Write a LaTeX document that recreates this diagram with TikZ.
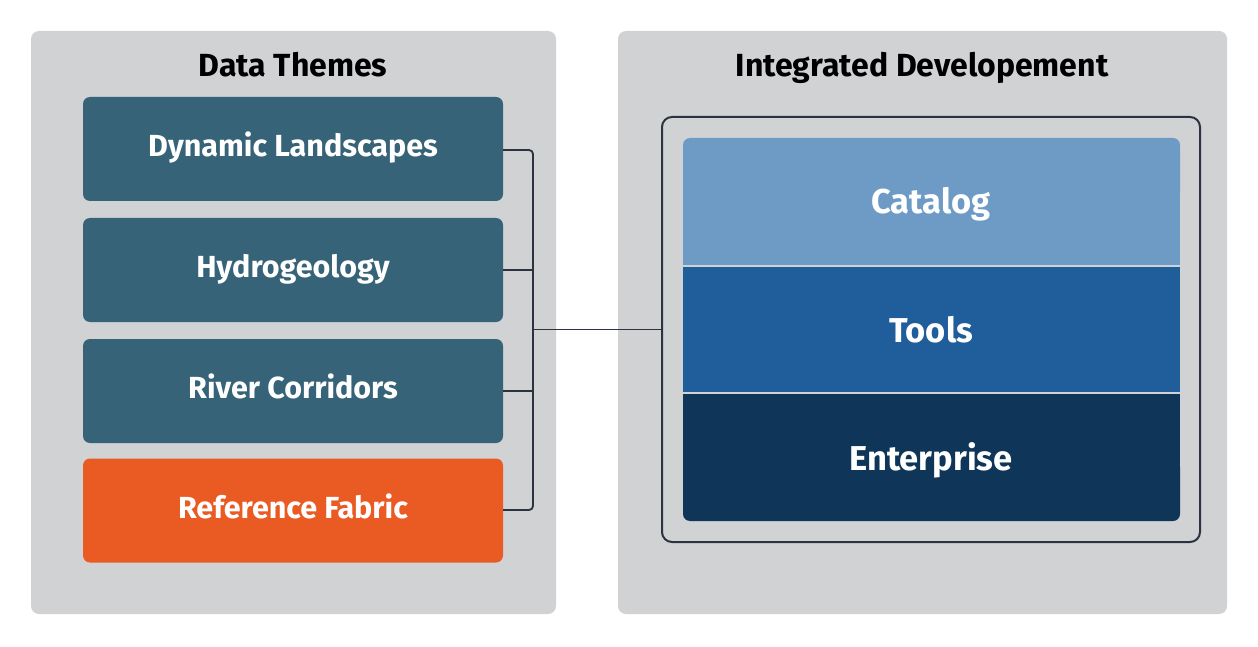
\documentclass[tikz,border=0pt]{standalone}
\usepackage{fontspec}
\setmainfont{Fira Sans}
\definecolor{panelgray}{HTML}{D1D2D4}
\definecolor{teal}{HTML}{376379}
\definecolor{orangeb}{HTML}{EA5B24}
\definecolor{catalogc}{HTML}{6E9BC6}
\definecolor{toolsc}{HTML}{1F5D9B}
\definecolor{enterc}{HTML}{0F3659}
\definecolor{linec}{HTML}{2B3340}
\begin{document}
\begin{tikzpicture}[x=1pt,y=-1pt,
  panel/.style={fill=panelgray, rounded corners=8pt},
  title/.style={font=\bfseries\fontsize{32}{32}\selectfont, text=black, text height=22pt, text depth=0pt, inner sep=0pt},
  themebox/.style={fill=teal, rounded corners=7pt, minimum width=420pt, minimum height=104pt,
    text=white, font=\bfseries\fontsize{30.5}{30.5}\selectfont, text height=21pt, text depth=6pt, inner sep=0pt},
  layer/.style={text=white, font=\bfseries\fontsize{34.5}{34.5}\selectfont, text height=24pt, text depth=0pt, inner sep=0pt},
  conn/.style={draw=linec, line width=1.8pt, rounded corners=4pt}
]
\useasboundingbox (0,0) rectangle (1258,647);
\fill[white] (0,0) rectangle (1258,647);
% panels
\fill[panel] (31,31) rectangle (556,614);
\fill[panel] (618,31) rectangle (1227,614);
\node[title] (t1) at (293,66) {Data Themes};
\node[title] (t2) at (922,66) {Integrated Developement};
% theme boxes
\node[themebox] (dl) at (293,149) {Dynamic Landscapes};
\node[themebox] (hy) at (293,270) {Hydrogeology};
\node[themebox] (rc) at (293,391) {River Corridors};
\node[themebox, fill=orangeb] (rf) at (293,510.5) {Reference Fabric};
% integrated development outline
\node[draw=linec, line width=2pt, rounded corners=10pt, minimum width=538pt, minimum height=425pt, inner sep=0pt] (id) at (931,329.5) {};
% layers
\fill[catalogc, rounded corners=7pt] (683,138) rectangle (1180,200);
\fill[catalogc] (683,190) rectangle (1180,265.2);
\fill[toolsc] (683,267) rectangle (1180,392.2);
\fill[enterc, rounded corners=7pt] (683,460) rectangle (1180,521);
\fill[enterc] (683,394) rectangle (1180,470);
\node[layer] (cat) at (931,202) {Catalog};
\node[layer] (tools) at (931,330) {Tools};
\node[layer] (ent) at (931,458) {Enterprise};
% connectors
\coordinate (jt) at (533,150);
\coordinate (jb) at (533,510);
\coordinate (jm) at (533,329.5);
\draw[conn] (dl.east |- jt) -- (jt) -- (jb) -- (rf.east |- jb);
\draw[conn] (hy.east) -- (hy.east -| jt);
\draw[conn] (rc.east) -- (rc.east -| jt);
\draw[conn] (jm) -- (id.west);
\end{tikzpicture}
\end{document}
